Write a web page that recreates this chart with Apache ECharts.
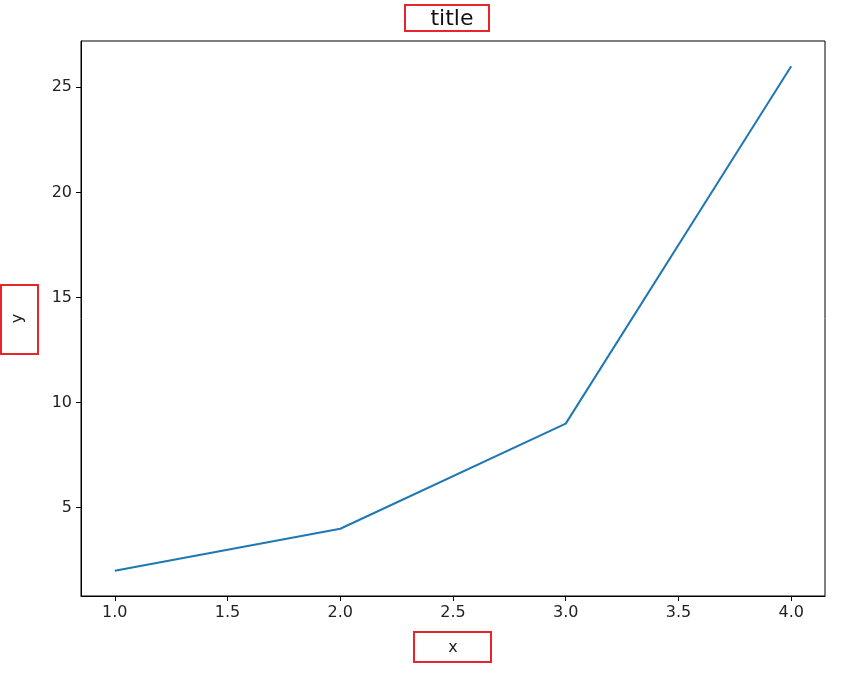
<!DOCTYPE html>
<html><head><meta charset="utf-8">
<script src="https://cdn.jsdelivr.net/npm/echarts@6/dist/echarts.min.js"></script>
<style>html,body{margin:0;padding:0;background:#fff}#c{width:859px;height:673px}</style>
</head><body><div id="c"></div>
<script>
const xValues = [1, 2, 3, 4];
const yValues = [2, 4, 9, 26];
const xTicks = [1.0, 1.5, 2.0, 2.5, 3.0, 3.5, 4.0];
const yTicks = [5, 10, 15, 20, 25];
const titleText = 'title';
const xName = 'x';
const yName = 'y';

const chart = echarts.init(document.getElementById('c'), null, {renderer: 'canvas'});
const font = 'DejaVu Sans';
chart.setOption({
  animation: false,
  backgroundColor: '#fff',
  grid: {left: 81, top: 41, right: 34, bottom: 77, containLabel: false, outerBoundsMode: 'none', show: true, borderColor: '#000', borderWidth: 1, backgroundColor: 'transparent'},
  xAxis: {
    type: 'value', min: 0.85, max: 4.15,
    name: xName, nameLocation: 'middle', nameGap: 44,
    nameTextStyle: {fontFamily: font, fontSize: 16, color: '#222'},
    axisLine: {show: true, onZero: false, lineStyle: {color: '#000', width: 1}},
    axisTick: {show: true, length: 5, customValues: xTicks, lineStyle: {color: '#000'}},
    axisLabel: {customValues: xTicks, fontFamily: font, fontSize: 16, color: '#222', margin: 9, formatter: v => v.toFixed(1)},
    splitLine: {show: false}
  },
  yAxis: {
    type: 'value', min: 0.8, max: 27.2,
    name: yName, nameLocation: 'middle', nameGap: 55, nameRotate: 90,
    nameTextStyle: {fontFamily: font, fontSize: 16, color: '#222'},
    axisLine: {show: true, onZero: false, lineStyle: {color: '#000', width: 1}},
    axisTick: {show: true, length: 5, customValues: yTicks, lineStyle: {color: '#000'}},
    axisLabel: {customValues: yTicks, fontFamily: font, fontSize: 16, color: '#222', margin: 9},
    splitLine: {show: false}
  },
  series: [{
    type: 'line', data: xValues.map((x, i) => [x, yValues[i]]),
    showSymbol: false, symbol: 'none',
    lineStyle: {color: '#1f77b4', width: 2}
  }],
  graphic: [
    {type: 'text', x: 452, y: 19, style: {text: titleText, fontFamily: font, fontSize: 22, fill: '#111', align: 'center', verticalAlign: 'middle'}},
    {type: 'rect', shape: {x: 405, y: 5, width: 84, height: 26}, style: {fill: 'none', stroke: '#e8262a', lineWidth: 2}},
    {type: 'rect', shape: {x: 1, y: 285, width: 37, height: 69}, style: {fill: 'none', stroke: '#e8262a', lineWidth: 2}},
    {type: 'rect', shape: {x: 414, y: 632, width: 77, height: 30}, style: {fill: 'none', stroke: '#e8262a', lineWidth: 2}}
  ]
});
</script></body></html>
